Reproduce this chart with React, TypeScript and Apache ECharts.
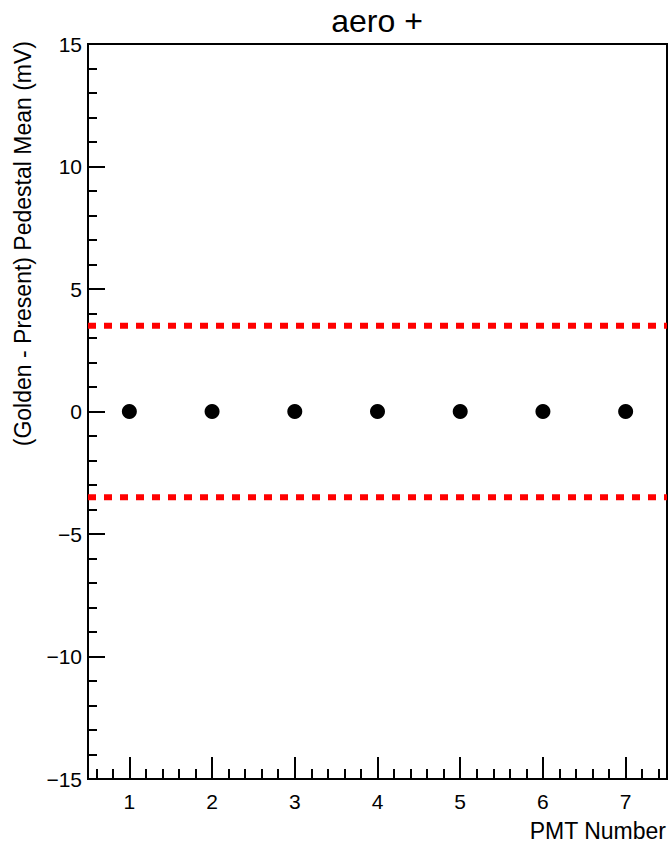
import React, { useEffect, useRef } from "react";
import * as echarts from "echarts";

const pmtNumbers = [1, 2, 3, 4, 5, 6, 7];
const meanDiff = [0, 0, 0, 0, 0, 0, 0];
const upperLimit = 3.5;
const lowerLimit = -3.5;
const xRange = [0.5, 7.5];
const yRange = [-15, 15];
const titleText = "aero +";
const xTitle = "PMT Number";
const yTitle = "(Golden - Present) Pedestal Mean (mV)";

const xMinorTicks: number[] = [];
for (let i = 3; i < 38; i++) {
  if (i % 5 !== 0) xMinorTicks.push(Math.round(i * 20) / 100);
}

const FONT = "'Liberation Sans', Arial, Helvetica, sans-serif";

export default function App() {
  const ref = useRef<HTMLDivElement>(null);
  useEffect(() => {
    if (!ref.current) return;
    const chart = echarts.init(ref.current, undefined, { renderer: "svg" });
    const fmt = (v: number) => (v < 0 ? "\u2212" + Math.abs(v) : String(v));
    chart.setOption({
      animation: false,
      backgroundColor: "#fff",
      grid: {
        left: 88,
        right: 1,
        top: 44,
        bottom: 65,
        show: true,
        borderColor: "#000",
        borderWidth: 2,
        backgroundColor: "transparent",
      },
      xAxis: [
        {
          type: "value",
          min: xRange[0],
          max: xRange[1],
          axisLine: { show: true, onZero: false, lineStyle: { color: "#000", width: 2 } },
          axisTick: {
            show: true,
            inside: true,
            length: 22,
            customValues: pmtNumbers,
            lineStyle: { color: "#000", width: 2 },
          },
          axisLabel: {
            customValues: pmtNumbers,
            color: "#000",
            fontSize: 21,
            fontFamily: FONT,
            margin: 12,
          },
          splitLine: { show: false },
        },
        {
          type: "value",
          min: xRange[0],
          max: xRange[1],
          position: "bottom",
          axisLine: { show: false, onZero: false },
          axisTick: {
            show: true,
            inside: true,
            length: 10,
            customValues: xMinorTicks,
            lineStyle: { color: "#000", width: 2 },
          },
          axisLabel: { show: false },
          splitLine: { show: false },
        },
      ],
      yAxis: {
        type: "value",
        min: yRange[0],
        max: yRange[1],
        interval: 5,
        axisLine: { show: true, onZero: false, lineStyle: { color: "#000", width: 2 } },
        axisTick: {
          show: true,
          inside: true,
          length: 17,
          lineStyle: { color: "#000", width: 2 },
        },
        minorTick: {
          show: true,
          splitNumber: 5,
          length: 9,
          lineStyle: { color: "#000", width: 2 },
        },
        axisLabel: {
          color: "#000",
          fontSize: 21,
          fontFamily: FONT,
          margin: 6,
          formatter: fmt,
        },
        splitLine: { show: false },
        minorSplitLine: { show: false },
      },
      graphic: [
        {
          type: "text",
          x: 377,
          y: 21,
          style: {
            text: titleText,
            fill: "#000",
            font: `32px ${FONT}`,
            align: "center",
            verticalAlign: "middle",
          },
        },
        {
          type: "text",
          x: 666,
          y: 831,
          style: {
            text: xTitle,
            fill: "#000",
            font: `23px ${FONT}`,
            align: "right",
            verticalAlign: "middle",
          },
        },
        {
          type: "text",
          x: 23,
          y: 41,
          rotation: Math.PI / 2,
          style: {
            text: yTitle,
            fill: "#000",
            font: `23px ${FONT}`,
            align: "right",
            verticalAlign: "middle",
          },
        },
      ],
      series: [
        {
          type: "line",
          data: [
            [xRange[0], upperLimit],
            [xRange[1], upperLimit],
          ],
          symbol: "none",
          lineStyle: { color: "#ff0000", width: 6, type: [8, 8] },
          silent: true,
        },
        {
          type: "line",
          data: [
            [xRange[0], lowerLimit],
            [xRange[1], lowerLimit],
          ],
          symbol: "none",
          lineStyle: { color: "#ff0000", width: 6, type: [8, 8] },
          silent: true,
        },
        {
          type: "scatter",
          data: pmtNumbers.map((x, i) => [x, meanDiff[i]]),
          symbol: "circle",
          symbolSize: 15,
          itemStyle: { color: "#000", opacity: 1 },
        },
      ],
    });
    return () => chart.dispose();
  }, []);
  return (
    <div
      ref={ref}
      style={{ position: "fixed", left: 0, top: 0, width: 668, height: 844 }}
    />
  );
}
